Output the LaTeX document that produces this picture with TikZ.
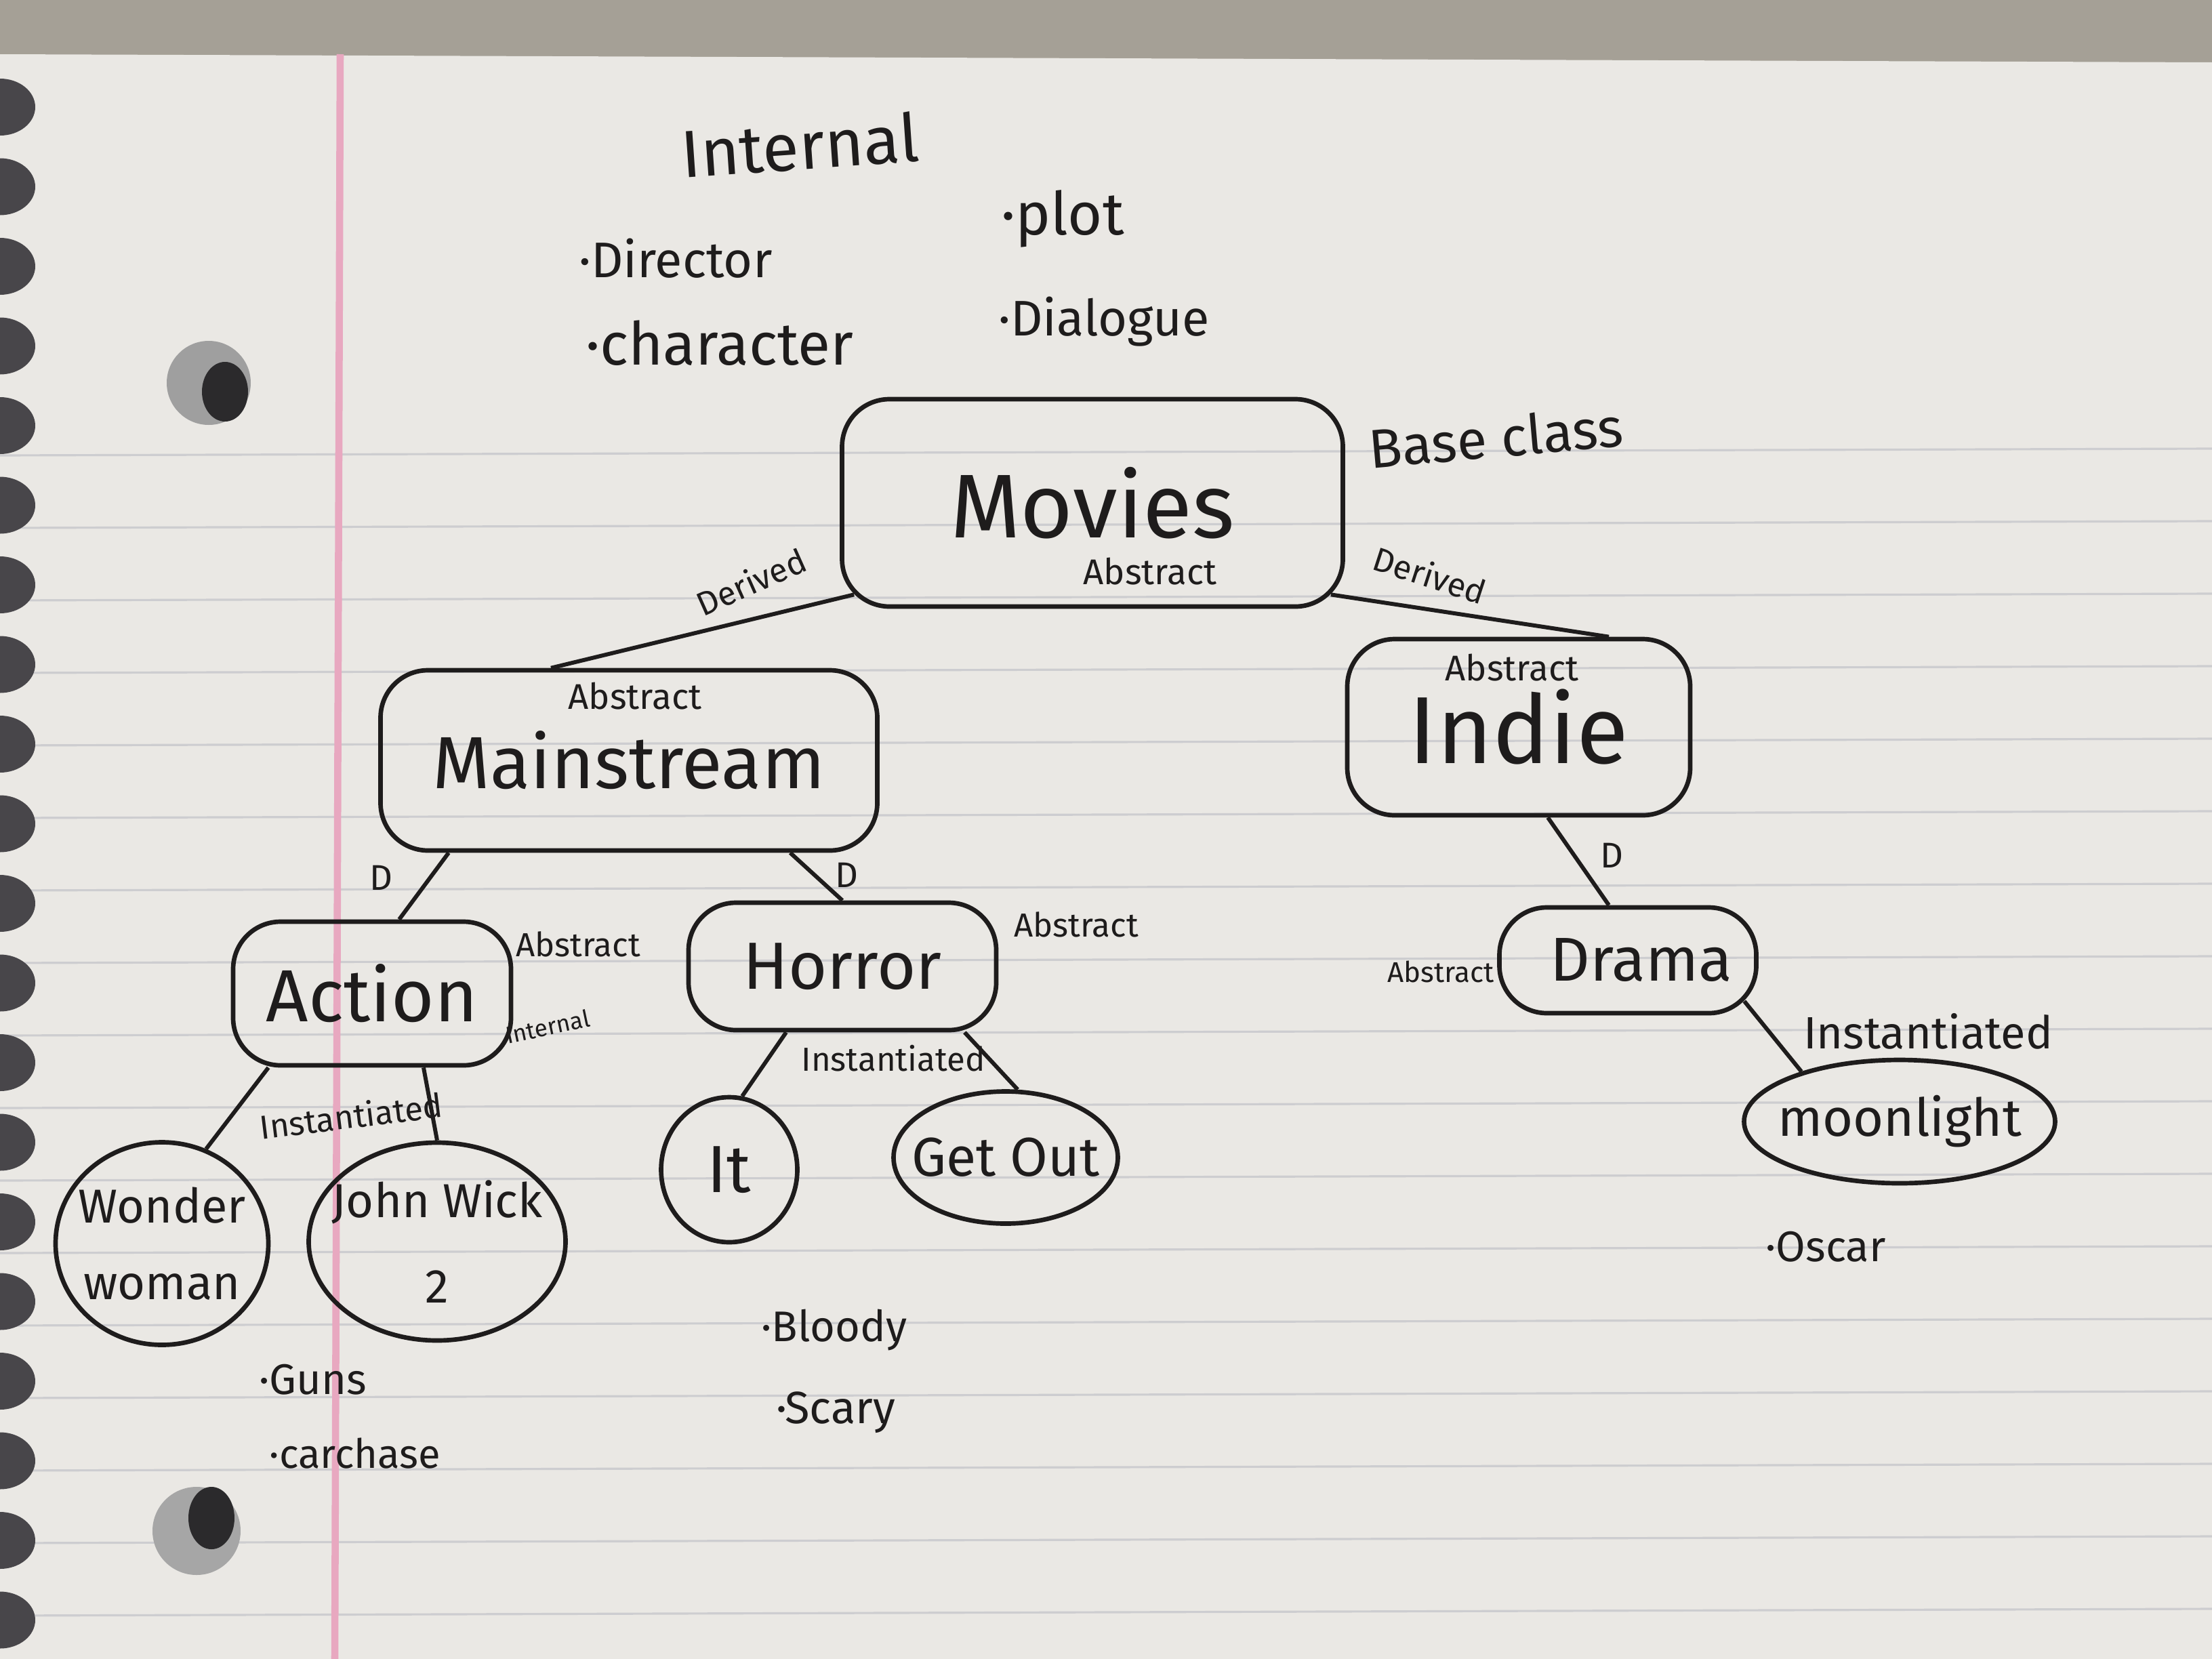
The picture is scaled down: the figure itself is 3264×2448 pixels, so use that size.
\documentclass[tikz,border=0pt]{standalone}
\usepackage{fontspec}
\setmainfont{Fira Sans}
\usetikzlibrary{shapes.geometric,calc}

\definecolor{ink}{RGB}{30,28,28}
\definecolor{paper}{RGB}{234,232,228}
\definecolor{desk}{RGB}{165,160,150}
\definecolor{rule}{RGB}{205,205,208}
\definecolor{margin}{RGB}{232,168,192}
\definecolor{holegray}{RGB}{72,70,74}

\newcommand{\hw}[1]{\fontsize{#1pt}{#1pt}\selectfont}

\tikzset{
  classbox/.style={draw=ink, line width=1.9pt, rounded corners=7mm, inner sep=0pt, text=ink},
  filmnode/.style={draw=ink, ellipse, line width=1.9pt, inner sep=-4mm, align=center, text=ink},
  note/.style={inner sep=0.75pt, text=ink},
  link/.style={draw=ink, line width=1.7pt},
}

\begin{document}
\begin{tikzpicture}[x=0.1mm,y=0.1mm,yscale=-1]
        \useasboundingbox (0,0) rectangle (3264,2448);

        %Shape: desk and sheet
        \fill[desk] (0,0) rectangle (3264,100);
        \fill[paper] (0,80) -- (3264,92) -- (3264,2448) -- (0,2448) -- cycle;
        %Straight Lines: ruling
        \foreach \ry in {0,...,16}
            \draw[rule, line width=0.9pt] (0,{672+107*\ry}) -- (3264,{662+107*\ry});
        %Straight Lines: margin
        \draw[margin, line width=3pt] (502,80) -- (494,2448);
        %Shape: perforations
        \foreach \py in {0,...,19}
            \fill[holegray] (0,{158+117.5*\py}) ellipse (52 and 42);
        %Shape: punched holes
        \fill[gray!75] (308,565) circle (62);
        \fill[holegray!60!black] (332,578) ellipse (34 and 44);
        \fill[gray!70] (290,2259) circle (65);
        \fill[holegray!60!black] (312,2240) ellipse (34 and 46);

        %Shape: Rounded Rect [classes]
        \node[classbox, font=\hw{38}, minimum width=73.9mm, minimum height=30.6mm] (movies) at (1612,742) {Movies};
        \node[classbox, font=\hw{31}, minimum width=73.3mm, minimum height=26.6mm] (mainstream) at (928,1122) {Mainstream};
        \node[classbox, font=\hw{40}, minimum width=50.6mm, minimum height=26mm] (indie) at (2241,1073) {Indie};
        \node[classbox, font=\hw{31}, minimum width=41mm, minimum height=21.2mm] (action) at (549,1466) {Action};
        \node[classbox, font=\hw{28}, minimum width=45.4mm, minimum height=18.8mm] (horror) at (1243,1426) {Horror};
        \node[classbox, font=\hw{26}, minimum width=37.9mm, minimum height=15.6mm] (drama) at (2402,1417) {\hspace*{4mm}Drama};

        %Shape: Ellipse [films]
        \node[filmnode, font=\hw{20}, minimum width=31.4mm, minimum height=29.9mm] (wonder) at (239,1835) {Wonder\\[12pt]woman};
        \node[filmnode, font=\hw{20}, minimum width=37.9mm, minimum height=29.2mm] (johnwick) at (645,1832) {John Wick\\[16pt]2};
        \node[filmnode, font=\hw{28}, minimum width=20.1mm, minimum height=21.4mm] (it) at (1076,1726) {It};
        \node[filmnode, font=\hw{23}, minimum width=33.1mm, minimum height=19.5mm] (getout) at (1484,1708) {Get Out};
        \node[filmnode, font=\hw{22}, minimum width=45.9mm, minimum height=18.2mm] (moonlight) at (2803,1655) {moonlight};

        %Straight Lines
        \draw[link] ($(movies.south west)+(21,-21)$) -- ($(mainstream.north)+(-115,0)$);
        \draw[link] ($(movies.south east)+(-21,-21)$) -- ($(indie.north)+(133,0)$);
        \draw[link] ($(mainstream.south)+(-266,0)$) -- ($(action.north)+(40,0)$);
        \draw[link] ($(mainstream.south)+(238,0)$) -- (horror.north);
        \draw[link] ($(indie.south)+(43,0)$) -- ($(drama.north)+(-28,0)$);
        \draw[link] ($(action.south)+(-153,0)$) -- (wonder.65);
        \draw[link] ($(action.south)+(76,0)$) -- (johnwick.north);
        \draw[link] ($(horror.south)+(-83,0)$) -- (it.80);
        \draw[link] ($(horror.south east)+(-50,0)$) -- (getout.80);
        \draw[link] ($(drama.south east)+(-21,-21)$) -- (moonlight.153);

        % Text Node
        \node[note, rotate=4] (internal) at (1180,214) {\hw{28}Internal};
        % Text Node
        \node[note] (director) at (997,381) {\hw{21}·Director};
        % Text Node
        \node[note] (character) at (1062,506) {\hw{25}·character};
        % Text Node
        \node[note] (plot) at (1568,323) {\hw{25}·plot};
        % Text Node
        \node[note] (dialogue) at (1629,475) {\hw{21}·Dialogue};
        % Text Node
        \node[note, rotate=5] (baseclass) at (2207,645) {\hw{23}Base class};
        % Text Node
        \node[note] (movabs) at (1697,843) {\hw{15}Abstract};
        % Text Node
        \node[note, rotate=24] (derivedl) at (1108,858) {\hw{14}Derived};
        % Text Node
        \node[note, rotate=-18] (derivedr) at (2110,848) {\hw{14}Derived};
        % Text Node
        \node[note] (mainabs) at (937,1027) {\hw{15}Abstract};
        % Text Node
        \node[note] (indieabs) at (2231,985) {\hw{15}Abstract};
        % Text Node
        \node[note] (dleft) at (562,1295) {\hw{15}D};
        % Text Node
        \node[note] (dmid) at (1249,1291) {\hw{15}D};
        % Text Node
        \node[note] (dright) at (2378,1262) {\hw{15}D};
        % Text Node
        \node[note] (actabs) at (853,1393) {\hw{14}Abstract};
        % Text Node
        \node[note, rotate=12] (actint) at (808,1515) {\hw{10}Internal};
        % Text Node
        \node[note] (horabs) at (1588,1364) {\hw{14}Abstract};
        % Text Node
        \node[note] (draabs) at (2126,1434) {\hw{12}Abstract};
        % Text Node
        \node[note, rotate=7] (actinst) at (518,1646) {\hw{14}Instantiated};
        % Text Node
        \node[note] (horinst) at (1318,1562) {\hw{14}Instantiated};
        % Text Node
        \node[note] (drainst) at (2845,1522) {\hw{19}Instantiated};
        % Text Node
        \node[note] (oscar) at (2694,1840) {\hw{18}·Oscar};
        % Text Node
        \node[note] (guns) at (462,2036) {\hw{18}·Guns};
        % Text Node
        \node[note] (carchase) at (524,2144) {\hw{17}·carchase};
        % Text Node
        \node[note] (bloody) at (1231,1962) {\hw{18}·Bloody};
        % Text Node
        \node[note] (scary) at (1233,2084) {\hw{19}·Scary};

\end{tikzpicture}
\end{document}
